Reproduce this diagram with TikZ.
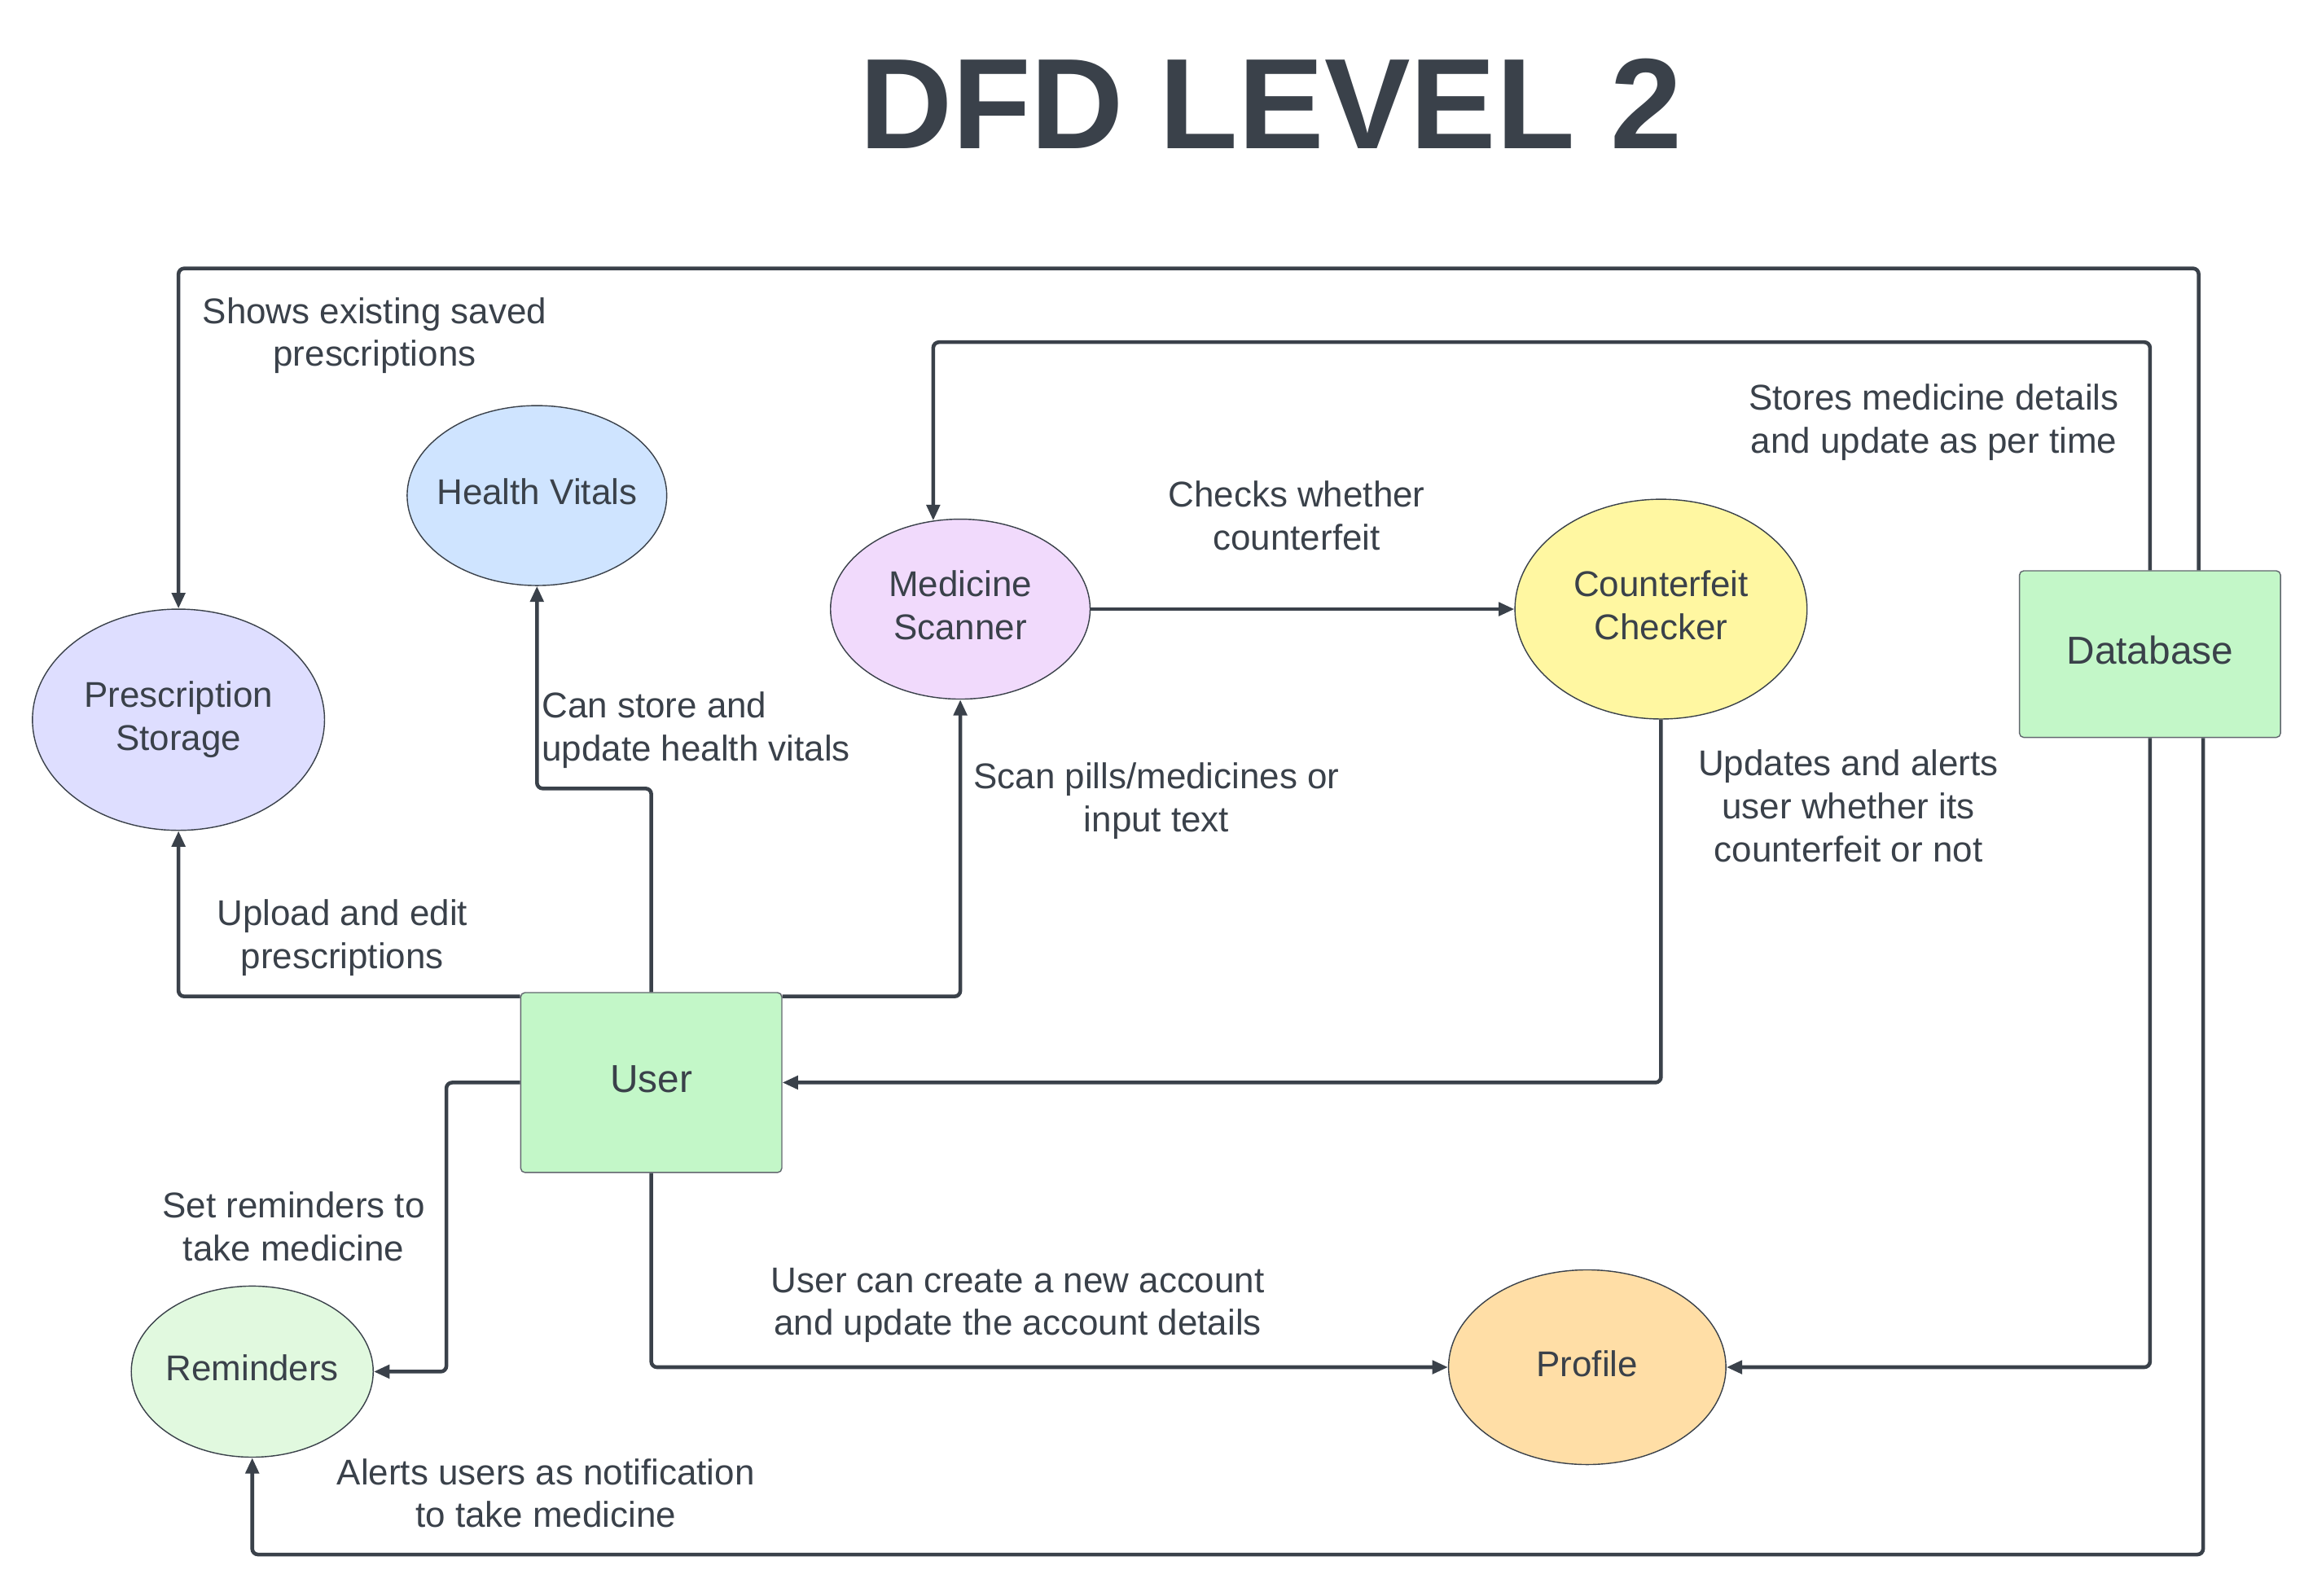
\documentclass[tikz,border=0pt]{standalone}
\usepackage{fontspec}
\setmainfont{Liberation Sans}
\usetikzlibrary{arrows.meta,shapes.geometric,calc}
\definecolor{ink}{HTML}{3A414A}
\definecolor{hvfill}{HTML}{CFE4FF}
\definecolor{psfill}{HTML}{DEDEFF}
\definecolor{msfill}{HTML}{F1DAFC}
\definecolor{ccfill}{HTML}{FFF7A1}
\definecolor{boxfill}{HTML}{C3F7C8}
\definecolor{remfill}{HTML}{E1F9DF}
\definecolor{profill}{HTML}{FFDEA6}
\def\pxu{0.018112cm}
\begin{document}
\begin{tikzpicture}[x=0.018112cm,y=-0.018112cm,
  font=\fontsize{12.5}{15}\selectfont, text=ink,
  proc/.style={ellipse, draw=ink, line width=0.4pt, inner sep=0pt, inner xsep=-8pt, text depth=2.7pt, align=center},
  entity/.style={rectangle, draw=ink!80, line width=0.4pt, rounded corners=1.5pt, fill=boxfill, align=center, text depth=2.7pt, font=\fontsize{13.6}{16}\selectfont},
  flow/.style={draw=ink, line width=1.3pt, rounded corners=2pt, -{Triangle[length=5.5pt,width=4.6pt]}},
  lbl/.style={align=center, inner sep=0pt}
]
\useasboundingbox[fill=white] (0,0) rectangle (1568,1082);

% title
\node[font=\fontsize{45}{50}\selectfont\bfseries, inner sep=0pt] (title) at (861.5,70) {DFD LEVEL 2};

% processes
\node[proc, fill=hvfill, minimum width=176*\pxu, minimum height=122*\pxu] (hv) at (364,336) {Health Vitals};
\node[proc, fill=psfill, minimum width=198*\pxu, minimum height=150*\pxu] (ps) at (121,488) {Prescription\\Storage};
\node[proc, fill=msfill, minimum width=176*\pxu, minimum height=122*\pxu] (ms) at (651,413) {Medicine\\Scanner};
\node[proc, fill=ccfill, minimum width=198*\pxu, minimum height=149*\pxu] (cc) at (1126,413) {Counterfeit\\Checker};
\node[proc, fill=remfill, minimum width=164*\pxu, minimum height=116*\pxu] (rem) at (171,930) {Reminders};
\node[proc, fill=profill, minimum width=188*\pxu, minimum height=132*\pxu] (pro) at (1076,927) {Profile};

% entities
\node[entity, minimum width=177*\pxu, minimum height=113*\pxu] (db) at (1457.5,443.5) {Database};
\node[entity, minimum width=177*\pxu, minimum height=122*\pxu] (user) at (441.5,734) {User};

% helper coordinates
\coordinate (t1) at (0,182);
\coordinate (t2) at (0,232);
\coordinate (t3) at (0,1054);
\coordinate (dbo) at ($(db.north)+(33,0)$);
\coordinate (dbb) at ($(db.south)+(36,0)$);
\coordinate (uul) at ($(user.north west)+(0,3)$);
\coordinate (uur) at ($(user.north east)+(0,3)$);

% connectors
\draw[flow] (dbo) -- (dbo |- t1) -| (ps.north);
\draw[flow] (db.north) -- (db.north |- t2) -| (ms.107.7);
\draw[flow] (ms.east) -- (cc.west);
\draw[flow] (cc.south) |- (user.east);
\draw[flow] (uul) -| (ps.south);
\draw[flow] (user.north) -- ++(0,-138) -| (hv.south);
\draw[flow] (uur) -| (ms.south);
\draw[flow] (user.west) -- ++(-50,0) |- (rem.east);
\draw[flow] (user.south) |- (pro.west);
\draw[flow] (db.south) |- (pro.east);
\draw[flow] (dbb) -- (dbb |- t3) -| (rem.south);

% labels
\node[lbl] (l1) at (254,227.5) {Shows existing saved\\prescriptions};
\node[lbl] (l2) at (1311,286.5) {Stores medicine details\\and update as per time};
\node[lbl] (l3) at (879,349.5) {Checks whether\\counterfeit};
\node[lbl, align=left, anchor=west] (l4) at (367,495) {Can store and\\update health vitals};
\node[lbl] (l5) at (784,543) {Scan pills/medicines or\\input text};
\node[lbl] (l6) at (1253,546.5) {Updates and alerts\\user whether its\\counterfeit or not};
\node[lbl] (l7) at (232,636) {Upload and edit\\prescriptions};
\node[lbl] (l8) at (199,831.5) {Set reminders to\\take medicine};
\node[lbl] (l9) at (690,885) {User can create a new account\\and update the account details};
\node[lbl] (l10) at (370,1012.5) {Alerts users as notification\\to take medicine};
\end{tikzpicture}
\end{document}
